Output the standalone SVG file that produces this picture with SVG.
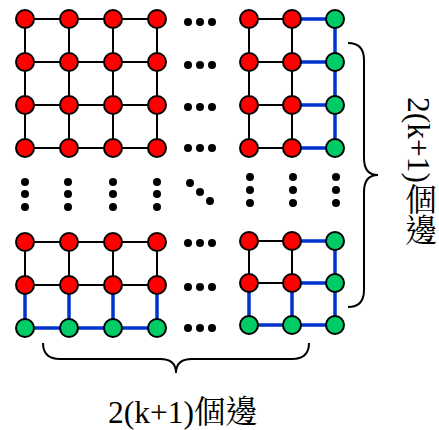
<svg xmlns="http://www.w3.org/2000/svg" width="439" height="430" viewBox="0 0 439 430">
<defs>
<style>
.k{stroke:#000;stroke-width:2;fill:none}
.b{stroke:#0033CC;stroke-width:3.5;fill:none}
.r{fill:#FF0000;stroke:#000;stroke-width:2}
.g{fill:#00CC66;stroke:#000;stroke-width:2}
.d{fill:#000}
.br{stroke:#000;stroke-width:2;fill:none}
</style>
</defs>
<rect width="439" height="430" fill="#fff"/>
<g id="connectors">
<path class="k" d="M25,19H157M25,62H157M25,105H157M25,148H157M25,19V148M69,19V148M113,19V148M157,19V148"/>
<path class="k" d="M249,19H292M249,62H292M249,105H292M249,148H292M249,19V148M292,19V148"/>
<path class="b" d="M292,19H335M292,62H335M292,105H335M292,148H335M335,19V148"/>
<path class="k" d="M25,242H157M25,285H157M25,242V285M69,242V285M113,242V285M157,242V285"/>
<path class="b" d="M25,328H157M25,285V328M69,285V328M113,285V328M157,285V328"/>
<path class="k" d="M249,241H292M249,283H292M249,241V283M292,241V283"/>
<path class="b" d="M292,241H335M292,283H335M249,325H335M335,241V325M249,283V325M292,283V325"/>
</g>
<g id="tl">
<circle class="r" cx="25" cy="19" r="9"/><circle class="r" cx="69" cy="19" r="9"/><circle class="r" cx="113" cy="19" r="9"/><circle class="r" cx="157" cy="19" r="9"/>
<circle class="r" cx="25" cy="62" r="9"/><circle class="r" cx="69" cy="62" r="9"/><circle class="r" cx="113" cy="62" r="9"/><circle class="r" cx="157" cy="62" r="9"/>
<circle class="r" cx="25" cy="105" r="9"/><circle class="r" cx="69" cy="105" r="9"/><circle class="r" cx="113" cy="105" r="9"/><circle class="r" cx="157" cy="105" r="9"/>
<circle class="r" cx="25" cy="148" r="9"/><circle class="r" cx="69" cy="148" r="9"/><circle class="r" cx="113" cy="148" r="9"/><circle class="r" cx="157" cy="148" r="9"/>
</g>
<g id="tr">
<circle class="r" cx="249" cy="19" r="9"/><circle class="r" cx="292" cy="19" r="9"/><circle class="g" cx="335" cy="19" r="9"/>
<circle class="r" cx="249" cy="62" r="9"/><circle class="r" cx="292" cy="62" r="9"/><circle class="g" cx="335" cy="62" r="9"/>
<circle class="r" cx="249" cy="105" r="9"/><circle class="r" cx="292" cy="105" r="9"/><circle class="g" cx="335" cy="105" r="9"/>
<circle class="r" cx="249" cy="148" r="9"/><circle class="r" cx="292" cy="148" r="9"/><circle class="g" cx="335" cy="148" r="9"/>
</g>
<g id="bl">
<circle class="r" cx="25" cy="242" r="9"/><circle class="r" cx="69" cy="242" r="9"/><circle class="r" cx="113" cy="242" r="9"/><circle class="r" cx="157" cy="242" r="9"/>
<circle class="r" cx="25" cy="285" r="9"/><circle class="r" cx="69" cy="285" r="9"/><circle class="r" cx="113" cy="285" r="9"/><circle class="r" cx="157" cy="285" r="9"/>
<circle class="g" cx="25" cy="328" r="9"/><circle class="g" cx="69" cy="328" r="9"/><circle class="g" cx="113" cy="328" r="9"/><circle class="g" cx="157" cy="328" r="9"/>
</g>
<g id="br">
<circle class="r" cx="249" cy="241" r="9"/><circle class="r" cx="292" cy="241" r="9"/><circle class="g" cx="335" cy="241" r="9"/>
<circle class="r" cx="249" cy="283" r="9"/><circle class="r" cx="292" cy="283" r="9"/><circle class="g" cx="335" cy="283" r="9"/>
<circle class="g" cx="249" cy="325" r="9"/><circle class="g" cx="292" cy="325" r="9"/><circle class="g" cx="335" cy="325" r="9"/>
</g>
<g id="ellipses">
<g class="d">
<circle cx="188" cy="22" r="4"/><circle cx="200" cy="22" r="4"/><circle cx="212" cy="22" r="4"/>
<circle cx="188" cy="65" r="4"/><circle cx="200" cy="65" r="4"/><circle cx="212" cy="65" r="4"/>
<circle cx="188" cy="107" r="4"/><circle cx="200" cy="107" r="4"/><circle cx="212" cy="107" r="4"/>
<circle cx="188" cy="148" r="4"/><circle cx="200" cy="148" r="4"/><circle cx="212" cy="148" r="4"/>
<circle cx="188" cy="243" r="4"/><circle cx="200" cy="243" r="4"/><circle cx="212" cy="243" r="4"/>
<circle cx="188" cy="287" r="4"/><circle cx="200" cy="287" r="4"/><circle cx="212" cy="287" r="4"/>
<circle cx="188" cy="328" r="4"/><circle cx="200" cy="328" r="4"/><circle cx="212" cy="328" r="4"/>
<circle cx="25" cy="182" r="4"/><circle cx="25" cy="194" r="4"/><circle cx="25" cy="207" r="4"/>
<circle cx="68" cy="182" r="4"/><circle cx="68" cy="194" r="4"/><circle cx="68" cy="207" r="4"/>
<circle cx="113" cy="182" r="4"/><circle cx="113" cy="194" r="4"/><circle cx="113" cy="207" r="4"/>
<circle cx="157" cy="182" r="4"/><circle cx="157" cy="194" r="4"/><circle cx="157" cy="207" r="4"/>
<circle cx="250" cy="177" r="4"/><circle cx="250" cy="190" r="4"/><circle cx="250" cy="203" r="4"/>
<circle cx="293" cy="177" r="4"/><circle cx="293" cy="190" r="4"/><circle cx="293" cy="203" r="4"/>
<circle cx="336" cy="177" r="4"/><circle cx="336" cy="190" r="4"/><circle cx="336" cy="203" r="4"/>
<circle cx="190" cy="183" r="4"/><circle cx="200" cy="192" r="4"/><circle cx="210" cy="201" r="4"/>
</g>
</g>
<g id="braces">
<path class="br" d="M348,43 Q364,43 364,60 L364,158 Q364,175 378,175 Q364,175 364,192 L364,290 Q364,307 348,307"/>
<path class="br" d="M43,343 Q43,359 60,359 L160,359 Q176,359 176,373 Q176,359 192,359 L292,359 Q309,359 309,343"/>
</g>
<g id="labels" font-family="'Liberation Serif', 'Noto Serif CJK TC', 'Noto Sans CJK TC', serif" font-size="31.5" fill="#000">
<text x="108" y="423">2(k+1)個邊</text>
<text x="418" y="97" writing-mode="tb">2(k+1)個邊</text>
</g>
</svg>
